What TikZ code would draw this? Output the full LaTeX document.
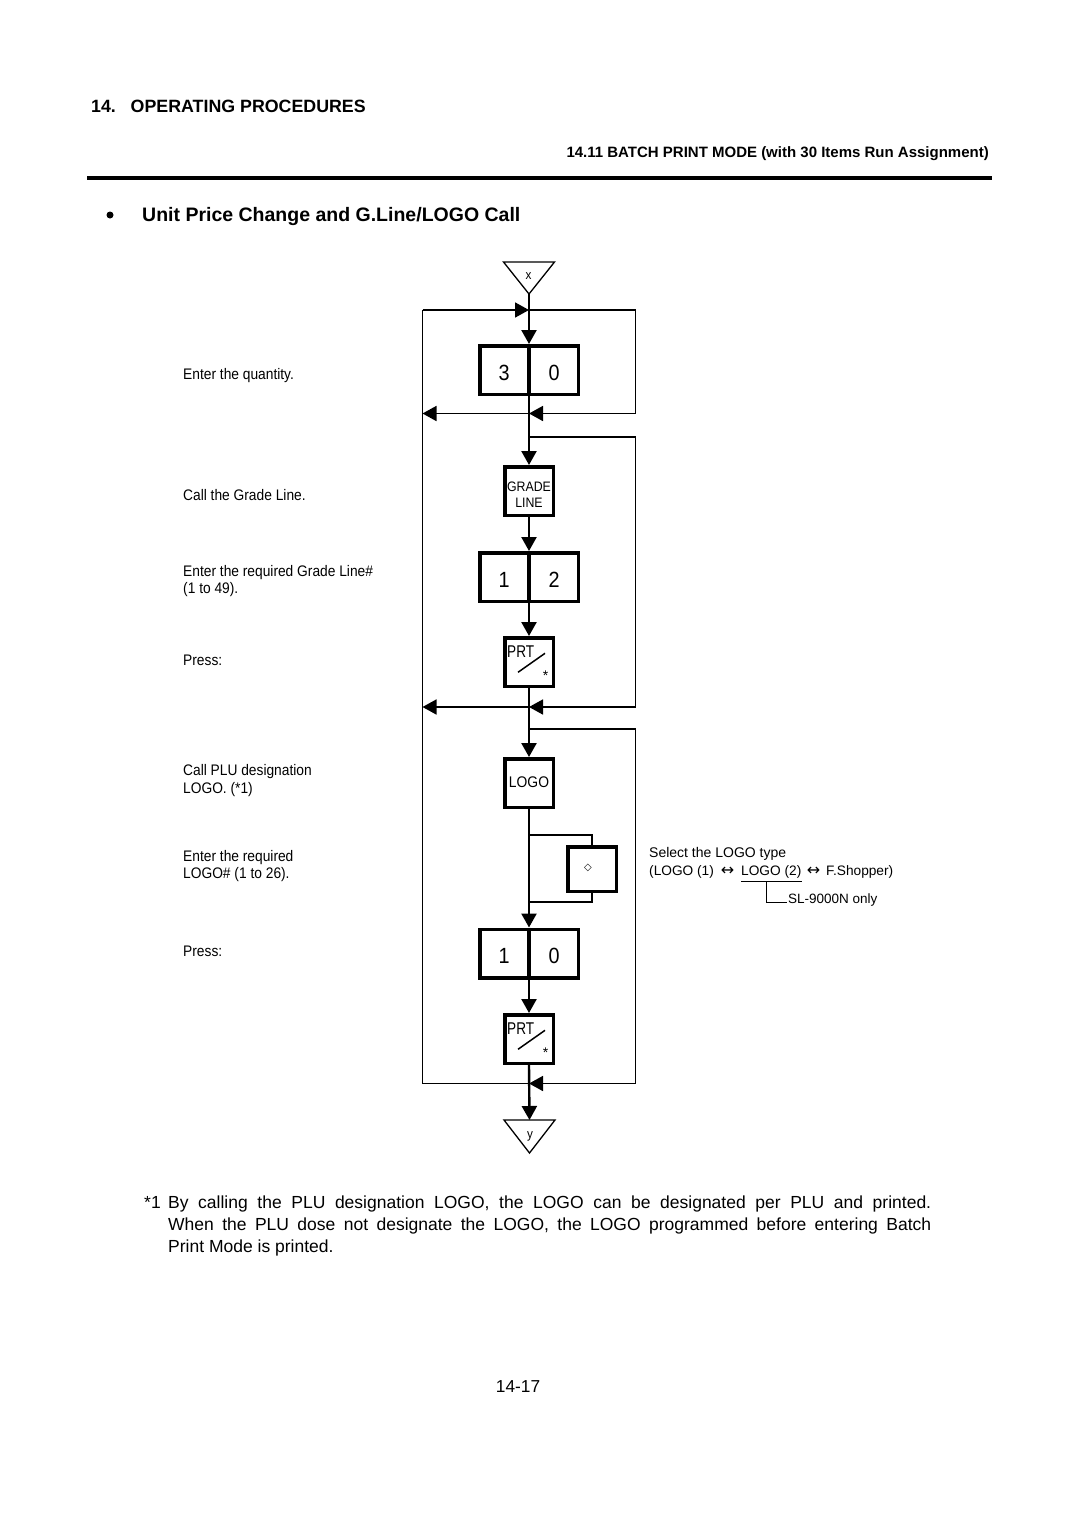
\documentclass[tikz,border=0pt]{standalone}
\usepackage{fontspec}
\setmainfont{Liberation Sans}
\newfontfamily\cf[FakeStretch=0.9]{Liberation Sans}
\newfontfamily\nf[FakeStretch=0.8]{Liberation Sans}
\newfontfamily\dv{DejaVu Sans}
\usetikzlibrary{arrows.meta,calc}
\begin{document}
\begin{tikzpicture}[x=1pt,y=-1pt,
  conn/.style={line width=2.4pt},
  loopl/.style={line width=1.7pt},
  sidel/.style={line width=1.5pt},
  arr/.style={-{Triangle[length=14pt,width=15pt]}},
  keybox/.style={draw,line width=3.5pt,inner sep=0pt,minimum width=48.5pt,minimum height=48.5pt},
  widekey/.style={draw,line width=3.5pt,inner sep=0pt,minimum width=98.5pt,minimum height=48.5pt},
  digit/.style={inner sep=0pt,font=\cf\fontsize{22}{26}\selectfont},
  lbl/.style={anchor=base west,inner sep=0pt,font=\cf\fontsize{15.3}{18}\selectfont},
  rlbl/.style={anchor=base west,inner sep=0pt,font=\fontsize{13.7}{16}\selectfont},
  rarrow/.style={inner sep=0pt,font=\dv\fontsize{16}{18}\selectfont},
  foot/.style={anchor=base west,inner sep=0pt,font=\fontsize{17.5}{22}\selectfont},
  tri/.style={line width=1.3pt}
]
\useasboundingbox (0,0) rectangle (1080,1528);

% ---------- header ----------
\node[anchor=base west,inner sep=0pt,font=\bfseries\fontsize{17.8}{20}\selectfont] (h1a) at (91,112.7) {14.};
\node[anchor=base west,inner sep=0pt,font=\bfseries\fontsize{17.8}{20}\selectfont] (h1b) at (130.5,112.7) {OPERATING PROCEDURES};
\node[anchor=base east,inner sep=0pt,font=\bfseries\fontsize{15}{18}\selectfont] (h2) at (989,157) {14.11 BATCH PRINT MODE (with 30 Items Run Assignment)};
\coordinate (ruleA) at (87,178);
\coordinate (ruleB) at (992,178);
\draw[line width=4pt] (ruleA) -- (ruleB);
\node[circle,fill,inner sep=0pt,minimum size=7pt] (bul) at (110,215) {};
\node[anchor=base west,inner sep=0pt,font=\bfseries\fontsize{19.5}{22}\selectfont] (title) at (142,221.7) {Unit Price Change and G.Line/LOGO Call};

% ---------- top triangle ----------
\coordinate (xtop) at (529,294);
\draw[tri] (503.5,262) -- (554.5,262) -- (xtop) -- cycle;
\node[inner sep=0pt,font=\cf\fontsize{13}{15}\selectfont] (xlab) at (528.5,276.5) {x};

% ---------- keys ----------
\node[widekey] (k30) at (529,370) {};
\node[keybox] (grade) at (529,491) {};
\node[widekey] (k12) at (529,577) {};
\node[keybox] (prt1) at (529,662) {};
\node[keybox] (logo) at (529,783) {};
\node[keybox,minimum height=44.5pt] (sel) at (592,869) {};
\node[widekey] (k10) at (529,953.5) {};
\node[keybox] (prt2) at (529,1039) {};

\foreach \k in {k30,k12,k10}{
  \draw[line width=3.5pt] (\k.north) -- (\k.south);
}
\node[digit] (k30a) at ($(k30.center)+(-25,2.5)$) {3};
\node[digit] (k30b) at ($(k30.center)+(25,2.5)$) {0};
\node[digit] (k12a) at ($(k12.center)+(-25,2.5)$) {1};
\node[digit] (k12b) at ($(k12.center)+(25,2.5)$) {2};
\node[digit] (k10a) at ($(k10.center)+(-25,2.5)$) {1};
\node[digit] (k10b) at ($(k10.center)+(25,2.5)$) {0};

\node[inner sep=0pt,align=center,font=\cf\fontsize{13.7}{16}\selectfont] (gradet) at ($(grade.center)+(0,4)$) {GRADE\\LINE};
\node[inner sep=0pt,font=\cf\fontsize{15.4}{18}\selectfont] (logot) at ($(logo.center)+(0,-0.5)$) {LOGO};
\node[inner sep=0pt,font=\dv\fontsize{10}{12}\selectfont] (selt) at (588,868.3) {◇};

\foreach \b in {prt1,prt2}{
  \node[anchor=base west,inner sep=0pt,font=\nf\fontsize{17}{18}\selectfont] (\b-t) at ($(\b.north west)+(4,21)$) {PRT};
  \draw[line width=1.5pt] ($(\b.north west)+(15,36.3)$) -- ($(\b.north west)+(42,17.3)$);
  \node[inner sep=0pt,font=\fontsize{14}{14}\selectfont] (\b-s) at ($(\b.north west)+(42.5,40)$) {*};
}

% ---------- bottom triangle ----------
\coordinate (ytop) at (529.5,1120);
\draw[tri] (ytop) -- (504,1120) -- (529.5,1153) -- (555,1120) -- cycle;
\node[anchor=base,inner sep=0pt,font=\cf\fontsize{13}{15}\selectfont] (ylab) at (530,1138.5) {y};

% ---------- junctions ----------
\coordinate (J1) at (529,310);   \coordinate (L1) at (422.5,310);   \coordinate (R1) at (635.5,310);
\coordinate (R2) at (635.5,413.5); \coordinate (J2) at (529,413.5); \coordinate (L2) at (422.5,413.5);
\coordinate (J3) at (529,437);   \coordinate (R3) at (635.5,437);
\coordinate (R4) at (635.5,707); \coordinate (J4) at (529,707);     \coordinate (L4) at (422.5,707);
\coordinate (J5) at (529,729);   \coordinate (R5) at (635.5,729);
\coordinate (R6) at (635.5,1083.5); \coordinate (J6) at (529,1083.5); \coordinate (L6) at (422.5,1083.5);
\coordinate (B1) at (529,835);   \coordinate (B2) at (529,902);

% ---------- connectors ----------
\draw[conn,arr] (xtop) -- (k30.north);
\draw[loopl,arr] (L1) -- (J1);
\draw[loopl,arr] (J1) -- (R1) -- (R2) -- (J2);
\draw[loopl,arr] (J2) -- (L2);
\draw[loopl] (L1) -- (L6) -- (J6);
\draw[conn,arr] (k30.south) -- (grade.north);
\draw[loopl,arr] (J3) -- (R3) -- (R4) -- (J4);
\draw[loopl,arr] (J4) -- (L4);
\draw[conn,arr] (grade.south) -- (k12.north);
\draw[conn,arr] (k12.south) -- (prt1.north);
\draw[conn,arr] (prt1.south) -- (logo.north);
\draw[loopl,arr] (J5) -- (R5) -- (R6) -- (J6);
\draw[conn,arr] (logo.south) -- (k10.north);
\draw[sidel] (B1) -| (sel.north);
\draw[sidel] (sel.south) |- (B2);
\draw[conn,arr] (k10.south) -- (prt2.north);
\draw[conn,arr] (prt2.south) -- (ytop);

% ---------- left descriptions ----------
\node[lbl] (t1) at (183,379) {Enter the quantity.};
\node[lbl] (t2) at (183,500) {Call the Grade Line.};
\node[lbl] (t3a) at (183,576) {Enter the required Grade Line\#};
\node[lbl] (t3b) at (183,593.5) {(1 to 49).};
\node[lbl] (t4) at (183,665) {Press:};
\node[lbl] (t5a) at (183,775.7) {Call PLU designation};
\node[lbl] (t5b) at (183,793.2) {LOGO. (*1)};
\node[lbl] (t6a) at (183,861) {Enter the required};
\node[lbl] (t6b) at (183,878.5) {LOGO\# (1 to 26).};
\node[lbl] (t7) at (183,956) {Press:};

% ---------- right description ----------
\node[rlbl,font=\fontsize{14}{16}\selectfont] (r1) at (649,857) {Select the LOGO type};
\node[rlbl] (r2a) at (649,875.5) {(LOGO (1)};
\node[rarrow] (ar1) at (727.5,871) {↔};
\node[rlbl] (r2b) at (741,875.5) {LOGO (2)};
\node[rarrow] (ar2) at (813.5,871) {↔};
\node[rlbl] (r2c) at (826,875.5) {F.Shopper)};
\draw[line width=1.3pt] ($(r2b.base west)+(0,6.2)$) coordinate (ulA) -- ($(r2b.base east)+(0,6.2)$) coordinate (ulB);
\node[rlbl,font=\fontsize{13.5}{15}\selectfont] (slt) at (788,903.5) {SL-9000N only};
\coordinate (ulM) at ($(ulA)!0.42!(ulB)$);
\coordinate (slin) at ($(slt.base west)+(-1.5,-1)$);
\draw[line width=1.3pt] (ulM) |- (slin);

% ---------- footnote ----------
\node[foot] (fn0) at (144,1208) {*1};
\node[foot] (fn1) at (168,1208) {\makebox[763pt][s]{By calling the PLU designation LOGO, the LOGO can be designated per PLU and printed.}};
\node[foot] (fn2) at (168,1230) {\makebox[763pt][s]{When the PLU dose not designate the LOGO, the LOGO programmed before entering Batch}};
\node[foot] (fn3) at (168,1252) {Print Mode is printed.};

\node[anchor=base,inner sep=0pt,font=\fontsize{17.3}{20}\selectfont] (pg) at (518,1392) {14-17};
\end{tikzpicture}
\end{document}
